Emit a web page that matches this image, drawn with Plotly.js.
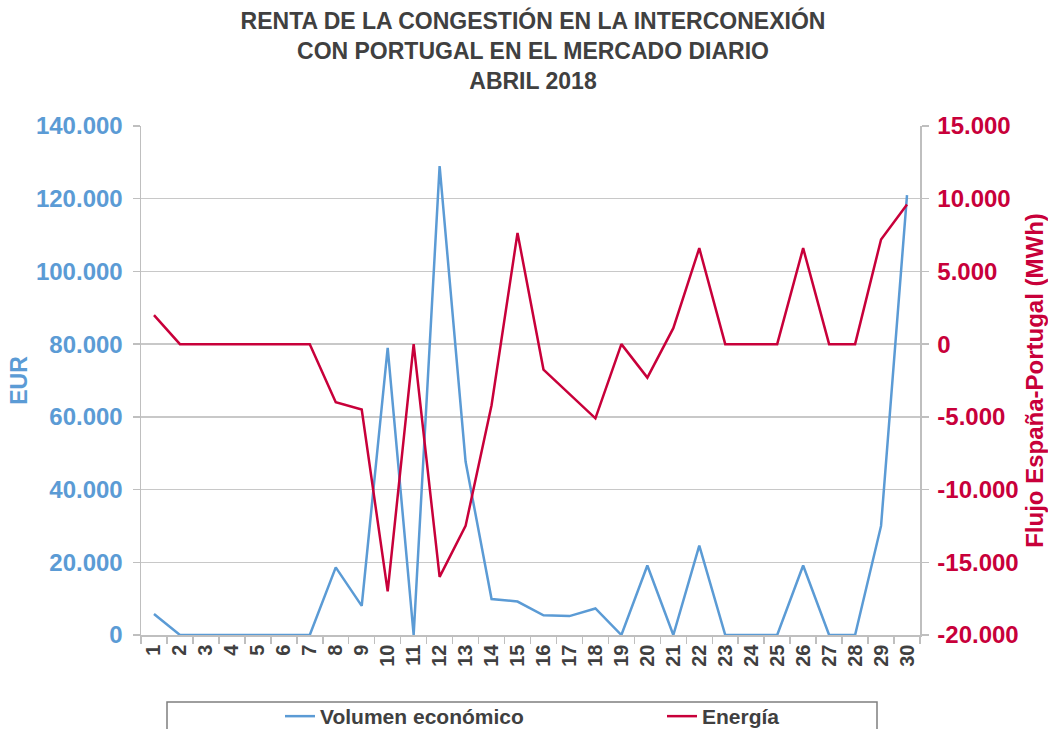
<!DOCTYPE html>
<html>
<head>
<meta charset="utf-8">
<script src="https://cdn.plot.ly/plotly-3.0.1.min.js"></script>
<style>html,body{margin:0;padding:0;background:#fff;}#chart{width:1048px;height:729px;}</style>
</head>
<body>
<div id="chart"></div>
<script>
// Days of April 2018
const days = ["1","2","3","4","5","6","7","8","9","10","11","12","13","14","15","16","17","18","19","20","21","22","23","24","25","26","27","28","29","30"];
// Volumen económico (EUR)
const volumen = [5800,0,0,0,0,0,0,18600,8000,79000,0,129000,47700,9900,9200,5400,5200,7300,0,19100,0,24600,0,0,0,19100,0,0,30000,121000];
// Energía - Flujo España-Portugal (MWh)
const energia = [2000,0,0,0,0,0,0,-4000,-4500,-17000,0,-16000,-12500,-4200,7650,-1750,-3400,-5100,0,-2300,1100,6600,0,0,0,6600,0,0,7200,9600];
// Axis ticks
const leftTickVals = [0,20000,40000,60000,80000,100000,120000,140000];
const leftTickText = ["0","20.000","40.000","60.000","80.000","100.000","120.000","140.000"];
const rightTickVals = [-20000,-15000,-10000,-5000,0,5000,10000,15000];
const rightTickText = ["-20.000","-15.000","-10.000","-5.000","0","5.000","10.000","15.000"];

const BLUE = "#5B9BD5";
const RED = "#C8003A";
const FONT = "Liberation Sans, Arial, sans-serif";

const traces = [
  {x: days, y: volumen, type: "scatter", mode: "lines", name: "Volumen económico",
   line: {color: BLUE, width: 2.5}, yaxis: "y", legend: "legend"},
  {x: days, y: energia, type: "scatter", mode: "lines", name: "Energía",
   line: {color: RED, width: 2.5}, yaxis: "y2", legend: "legend2"}
];

const W = 1048, H = 729, L = 141, R = 128, T = 126, B = 94;
const pw = W - L - R, ph = H - T - B;
const px = v => (v - L) / pw;
const py = v => (H - B - v) / ph;

const legendFont = {family: FONT, size: 21, color: "#404040", weight: "bold"};

const layout = {
  width: W, height: H,
  margin: {l: L, r: R, t: T, b: B, autoexpand: false},
  paper_bgcolor: "#fff", plot_bgcolor: "#fff",
  font: {family: FONT, color: "#404040"},
  title: {
    text: "RENTA DE LA CONGESTIÓN EN LA INTERCONEXIÓN<br>CON PORTUGAL EN EL MERCADO DIARIO<br>ABRIL 2018",
    font: {family: FONT, size: 23, color: "#404040", weight: "bold"},
    xref: "paper", x: px(533), xanchor: "center",
    yref: "container", y: 1 - 29 / H, yanchor: "middle",
    automargin: false
  },
  showlegend: true,
  legend: {
    orientation: "h", xref: "paper", yref: "paper",
    x: px(280), xanchor: "left", y: py(696), yanchor: "top",
    font: legendFont, bgcolor: "rgba(0,0,0,0)", borderwidth: 0
  },
  legend2: {
    orientation: "h", xref: "paper", yref: "paper",
    x: px(662), xanchor: "left", y: py(696), yanchor: "top",
    font: legendFont, bgcolor: "rgba(0,0,0,0)", borderwidth: 0
  },
  shapes: [
    {type: "rect", xref: "paper", yref: "paper", x0: px(167), x1: px(877), y0: py(702), y1: py(760),
     line: {color: "#7F7F7F", width: 1.5}, fillcolor: "rgba(0,0,0,0)", layer: "below"}
  ],
  xaxis: {
    type: "category", range: [-0.5, 29.5],
    showgrid: false, zeroline: false,
    showline: true, linecolor: "#BFBFBF", linewidth: 1.5,
    ticks: "outside", tickson: "boundaries", ticklen: 7, tickcolor: "#BFBFBF", tickwidth: 1.5,
    tickangle: -90,
    tickfont: {family: FONT, size: 20, color: "#404040", weight: "bold"},
    automargin: false
  },
  yaxis: {
    range: [0, 140000], tickvals: leftTickVals, ticktext: leftTickText,
    showgrid: true, gridcolor: "#C8C8C8", gridwidth: 1.5,
    zeroline: false, showline: true, linecolor: "#BFBFBF", linewidth: 1.5,
    ticks: "outside", ticklen: 7, tickcolor: "#BFBFBF", tickwidth: 1.5,
    ticklabelstandoff: 5,
    tickfont: {family: FONT, size: 24, color: BLUE, weight: "bold"},
    title: {text: "EUR", font: {family: FONT, size: 23, color: BLUE, weight: "bold"}, standoff: 2},
    automargin: false
  },
  yaxis2: {
    overlaying: "y", side: "right",
    range: [-20000, 15000], tickvals: rightTickVals, ticktext: rightTickText,
    showgrid: false, zeroline: false,
    showline: true, linecolor: "#BFBFBF", linewidth: 1.5,
    ticks: "outside", ticklen: 7, tickcolor: "#BFBFBF", tickwidth: 1.5,
    ticklabelstandoff: 4,
    tickfont: {family: FONT, size: 24, color: RED, weight: "bold"},
    title: {text: "Flujo España-Portugal (MWh)", font: {family: FONT, size: 24, color: RED, weight: "bold"}, standoff: 10},
    automargin: false
  }
};

Plotly.newPlot("chart", traces, layout, {displayModeBar: false, staticPlot: true});
</script>
</body>
</html>
